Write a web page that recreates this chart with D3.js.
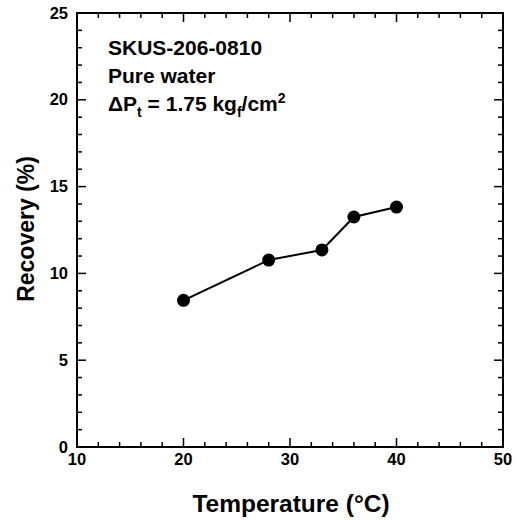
<!DOCTYPE html>
<html><head><meta charset="utf-8">
<script src="https://cdn.jsdelivr.net/npm/d3@7"></script>
<style>body{margin:0;background:#fff}svg{display:block}text{font-family:"Liberation Sans",Arial,sans-serif;font-weight:bold;fill:#000}</style>
</head><body>
<script>
const temperature = [20, 28, 33, 36, 40];
const recovery = [8.45, 10.77, 11.35, 13.25, 13.82];
const xTicks = [10, 20, 30, 40, 50];
const yTicks = [0, 5, 10, 15, 20, 25];
const xMinor = d3.range(10, 50.01, 2);
const yMinor = d3.range(0, 25.01, 1);
const annotation = ["SKUS-206-0810", "Pure water"];

const W = 523, H = 520;
const m = {l: 77, r: 20, t: 13, b: 73};
const svg = d3.select("body").append("svg").attr("width", W).attr("height", H);
const x = d3.scaleLinear().domain([10, 50]).range([m.l, W - m.r]);
const y = d3.scaleLinear().domain([0, 25]).range([H - m.b, m.t]);
const x0 = x.range()[0], x1 = x.range()[1], y0 = y.range()[0], y1 = y.range()[1];

const g = svg.append("g");
function ticksX(vals, len) {
  g.selectAll(null).data(vals).enter().append("line")
    .attr("x1", d => x(d)).attr("x2", d => x(d)).attr("y1", y0).attr("y2", y0 - len)
    .attr("stroke", "#000").attr("stroke-width", 1.5);
  g.selectAll(null).data(vals).enter().append("line")
    .attr("x1", d => x(d)).attr("x2", d => x(d)).attr("y1", y1).attr("y2", y1 + len)
    .attr("stroke", "#000").attr("stroke-width", 1.5);
}
function ticksY(vals, len) {
  g.selectAll(null).data(vals).enter().append("line")
    .attr("y1", d => y(d)).attr("y2", d => y(d)).attr("x1", x0).attr("x2", x0 + len)
    .attr("stroke", "#000").attr("stroke-width", 1.5);
  g.selectAll(null).data(vals).enter().append("line")
    .attr("y1", d => y(d)).attr("y2", d => y(d)).attr("x1", x1).attr("x2", x1 - len)
    .attr("stroke", "#000").attr("stroke-width", 1.5);
}
ticksX(xMinor.filter(v => !xTicks.includes(v)), 5);
ticksX(xTicks, 9);
ticksY(yMinor.filter(v => !yTicks.includes(v)), 5);
ticksY(yTicks, 9);

g.append("rect").attr("x", x0).attr("y", y1).attr("width", x1 - x0).attr("height", y0 - y1)
  .attr("fill", "none").attr("stroke", "#000").attr("stroke-width", 2);

svg.selectAll(null).data(xTicks).enter().append("text")
  .attr("x", d => x(d)).attr("y", y0 + 18).attr("text-anchor", "middle")
  .attr("font-size", 16.5).text(d => d);
svg.selectAll(null).data(yTicks).enter().append("text")
  .attr("x", x0 - 9).attr("y", d => y(d) + 5.5).attr("text-anchor", "end")
  .attr("font-size", 16.5).text(d => d);

svg.append("text").attr("x", 291).attr("y", 512).attr("text-anchor", "middle")
  .attr("font-size", 24.5).text("Temperature (°C)");
svg.append("text").attr("transform", "translate(34,229) rotate(-90)").attr("text-anchor", "middle")
  .attr("font-size", 23).text("Recovery (%)");

const line = d3.line().x((d, i) => x(temperature[i])).y(d => y(d));
svg.append("path").datum(recovery).attr("d", line).attr("fill", "none")
  .attr("stroke", "#000").attr("stroke-width", 2);
svg.selectAll(null).data(recovery).enter().append("circle")
  .attr("cx", (d, i) => x(temperature[i])).attr("cy", d => y(d)).attr("r", 6.5).attr("fill", "#000");

const ann = svg.append("g");
annotation.forEach((t, i) => {
  ann.append("text").attr("x", 108).attr("y", 55 + i * 28).attr("font-size", 21).text(t);
});
const t3 = ann.append("text").attr("x", 108).attr("y", 111).attr("font-size", 21);
t3.append("tspan").text("ΔP");
t3.append("tspan").attr("font-size", 14).attr("dy", 6).text("t");
t3.append("tspan").attr("dy", -6).text(" = 1.75 kg");
t3.append("tspan").attr("font-size", 14).attr("dy", 6).text("f");
t3.append("tspan").attr("dy", -6).text("/cm");
t3.append("tspan").attr("font-size", 14).attr("dy", -8).text("2");
</script>
</body></html>
